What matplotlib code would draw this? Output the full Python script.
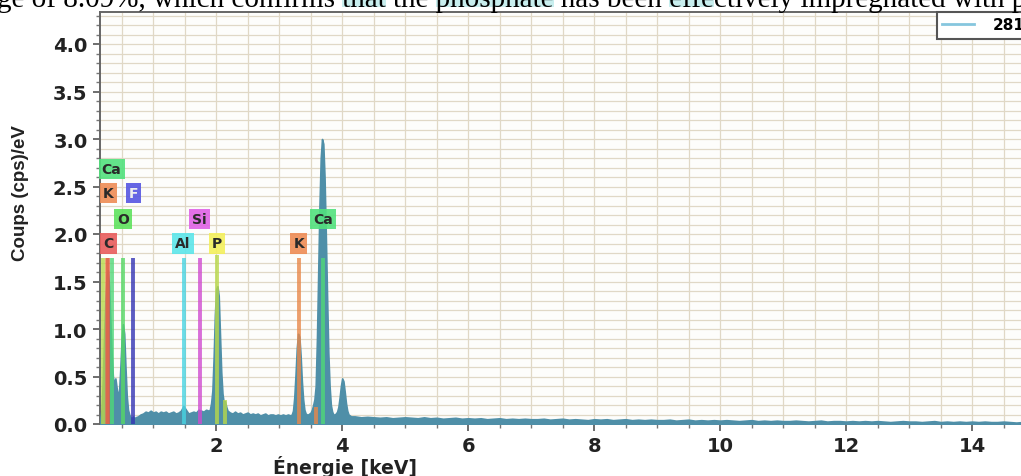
import numpy as np
import matplotlib
matplotlib.use("Agg")
import matplotlib.pyplot as plt
from matplotlib.lines import Line2D
from matplotlib.patches import Rectangle
from matplotlib.font_manager import FontProperties
from matplotlib.ticker import MultipleLocator, FormatStrFormatter

# --- spectrum (counts in cps/eV) ---
# each segment: first energy, channel step, counts
low_start, low_step = 0.16, 0.02
low_counts = [0.05, 0.15, 0.45, 0.9, 1.3, 1.55, 1.62, 1.45, 1.1, 0.75,
              0.5, 0.42, 0.48, 0.38, 0.3, 0.35, 0.6, 0.9, 1.05, 0.95,
              0.6, 0.3, 0.15, 0.1, 0.07, 0.06, 0.08, 0.06]

mid_start, mid_step = 0.72, 0.04
mid_counts = [0.07, 0.08, 0.1, 0.11, 0.13, 0.12, 0.14, 0.12, 0.13, 0.11,
              0.13, 0.12, 0.13, 0.11, 0.12, 0.13, 0.11, 0.12, 0.14, 0.19,
              0.15, 0.11, 0.12, 0.13, 0.12, 0.15, 0.14, 0.13, 0.15, 0.14]

p_start, p_step = 1.90, 0.02
p_counts = [0.15, 0.22, 0.35, 0.7, 1.15, 1.42, 1.45, 1.35, 0.95, 0.55,
            0.32, 0.22, 0.24, 0.18, 0.14, 0.13]

flat_start, flat_step = 2.22, 0.04
flat_counts = [0.12, 0.11, 0.13, 0.11, 0.12, 0.1, 0.11, 0.12, 0.1, 0.11,
               0.1, 0.11, 0.09, 0.1, 0.11, 0.09, 0.1, 0.1, 0.09, 0.1,
               0.09, 0.1, 0.09, 0.1, 0.09]

kca_start, kca_step = 3.20, 0.02
kca_counts = [0.1, 0.14, 0.28, 0.52, 0.8, 0.95, 0.92, 0.72, 0.45, 0.26,
              0.15, 0.11, 0.1, 0.1, 0.11, 0.12, 0.15, 0.2, 0.26, 0.4,
              0.9, 1.6, 2.3, 2.8, 3.0, 2.95, 2.6, 2.0, 1.35, 0.75,
              0.4, 0.2, 0.13, 0.1, 0.1, 0.11, 0.13, 0.18, 0.28, 0.4,
              0.48, 0.45, 0.34, 0.22, 0.14, 0.1, 0.09, 0.08, 0.08, 0.08]

tail_start, tail_step = 4.2, 0.1
tail_counts = [0.08, 0.07, 0.075, 0.07, 0.065, 0.07, 0.06, 0.065, 0.07,
               0.065, 0.06, 0.07, 0.06, 0.065, 0.055, 0.06, 0.065, 0.055, 0.06,
               0.055, 0.06, 0.05, 0.055, 0.06, 0.05, 0.055, 0.05, 0.055, 0.05,
               0.05, 0.055, 0.045, 0.05, 0.055, 0.045, 0.05, 0.045, 0.04, 0.05,
               0.045, 0.05, 0.04, 0.045, 0.05, 0.04, 0.045, 0.04, 0.045, 0.04,
               0.04, 0.045, 0.035, 0.04, 0.045, 0.035, 0.04, 0.035, 0.04, 0.035,
               0.04, 0.035, 0.03, 0.035, 0.04, 0.03, 0.035, 0.03, 0.035, 0.03,
               0.03, 0.035, 0.03, 0.025, 0.03, 0.035, 0.025, 0.03, 0.03, 0.025,
               0.03, 0.025, 0.03, 0.025, 0.03, 0.025, 0.02, 0.025, 0.03, 0.025,
               0.025, 0.02, 0.025, 0.03, 0.02, 0.025, 0.02, 0.025, 0.02, 0.025,
               0.02, 0.025, 0.02, 0.02, 0.025, 0.02, 0.015, 0.02, 0.02]

# --- element marker lines (keV) ---
line_energy = [0.20, 0.26, 0.277, 0.341, 0.525, 0.677, 1.486, 1.74, 2.013, 2.139, 3.313, 3.59, 3.69]
line_height = [1.75, 1.75, 1.75, 1.75, 1.75, 1.75, 1.75, 1.75, 1.78, 0.25, 1.75, 0.18, 1.75]
line_elem = ['P', 'K', 'C', 'Ca', 'O', 'F', 'Al', 'Si', 'P', 'P', 'K', 'K', 'Ca']

# --- element label boxes ---
label_text = ['Ca', 'K', 'F', 'O', 'C', 'Al', 'Si', 'P', 'K', 'Ca']
label_energy = [0.34, 0.285, 0.69, 0.525, 0.29, 1.47, 1.74, 2.01, 3.31, 3.69]
label_row = [3, 2, 2, 1, 0, 0, 1, 0, 0, 1]

legend_label = '2813_pt1'
caption = 'ge of 8.09%, which confirms that the phosphate has been effectively impregnated with p'

# styles
row_y = [1.9, 2.16, 2.43, 2.68]
box_color = {'Ca': '#52e27e', 'K': '#ee8c55', 'F': '#5656e2', 'O': '#5ee25e',
             'C': '#e85c5c', 'Al': '#5ce6ea', 'Si': '#e062e6', 'P': '#f4f05c'}
line_color = {'Ca': '#4fd878', 'K': '#e8884a', 'F': '#3434b4', 'O': '#56d866',
              'C': '#e0604a', 'Al': '#48d4e2', 'Si': '#d04cd0', 'P': '#b8d84a'}
spec_color = '#4f8fa8'
grid_color = '#e0d8c6'


def segment(start, step, counts):
    e = start + step * np.arange(len(counts))
    return e, np.asarray(counts, dtype=float)


segs = [segment(low_start, low_step, low_counts),
        segment(mid_start, mid_step, mid_counts),
        segment(p_start, p_step, p_counts),
        segment(flat_start, flat_step, flat_counts),
        segment(kca_start, kca_step, kca_counts),
        segment(tail_start, tail_step, tail_counts)]
energy = np.concatenate([s[0] for s in segs])
counts = np.concatenate([s[1] for s in segs])

W, H = 1021, 477
fig = plt.figure(figsize=(W / 100, H / 100), dpi=100)
fig.patch.set_facecolor('white')
ax = fig.add_axes([100 / W, 52 / H, 930 / W, 412 / H])
ax.set_facecolor('#fdfdfb')

# spectrum
ax.fill_between(energy, counts, 0, facecolor=spec_color, edgecolor=spec_color,
                lw=1.2, zorder=3)

# element lines on top, a bit see-through
for e, h, el in zip(line_energy, line_height, line_elem):
    ax.vlines(e, 0, h, color=line_color[el], lw=2.8, alpha=0.8, zorder=4)

for t, e, r in zip(label_text, label_energy, label_row):
    ax.text(e, row_y[r], t, ha='center', va='center', fontsize=10,
            fontweight='bold', color='#eeeeee' if t == 'F' else '#2a2a2a',
            bbox=dict(boxstyle='square,pad=0.22', fc=box_color[t], ec='none', alpha=0.9),
            zorder=6)

ax.set_xlim(0.156, 0.156 + 930 / 63)
ax.set_ylim(0, 412 / 95)
ax.xaxis.set_major_locator(MultipleLocator(2))
ax.xaxis.set_minor_locator(MultipleLocator(0.5))
ax.yaxis.set_major_locator(MultipleLocator(0.5))
ax.yaxis.set_minor_locator(MultipleLocator(0.1))
ax.yaxis.set_major_formatter(FormatStrFormatter('%.1f'))
ax.grid(True, which='both', color=grid_color, lw=0.9, zorder=0)
ax.set_axisbelow(True)
ax.tick_params(which='major', length=5, width=1.2, color='#555555', labelsize=14, pad=4)
ax.tick_params(which='minor', length=3, width=1.0, color='#777777')
for lab in ax.get_xticklabels() + ax.get_yticklabels():
    lab.set_fontweight('bold')
    lab.set_color('#222222')
for s in ['left', 'bottom', 'top']:
    ax.spines[s].set_color('#666666')
    ax.spines[s].set_linewidth(1.4)
ax.spines['right'].set_visible(False)

ax.set_xlabel('Énergie [keV]', fontsize=13.5, fontweight='bold', color='#222222')
ax.xaxis.set_label_coords((345 - 100) / 930, -0.075)
ax.set_ylabel('Coups (cps)/eV', fontsize=13.5, fontweight='bold',
              family='Liberation Sans', color='#222222')
ax.yaxis.set_label_coords(-(100 - 29) / 930, (425 - 193) / 412)

proxy = Line2D([], [], color='#86c6de', lw=2)
leg = ax.legend([proxy], [legend_label], loc='upper left', bbox_to_anchor=(0.9, 1.0),
                borderaxespad=0, fancybox=False, framealpha=1, borderpad=0.35,
                handlelength=2.1, handletextpad=1.2,
                prop=FontProperties(weight='bold', size=11))
leg.get_frame().set_edgecolor('#555555')
leg.get_frame().set_linewidth(1.5)
leg.set_zorder(10)

# clipped caption line from the document above the chart
fp = FontProperties(family='Liberation Serif', size=10)
renderer = fig.canvas.get_renderer()
w10, _, _ = renderer.get_text_width_height_descent(caption, fp, ismath=False)
x0 = -3.0
size = 10 * (W + 6 - x0) / w10
fp = FontProperties(family='Liberation Serif', size=size)
base_y = H - 7
for word, nchar in [('that', 4), ('phosphate', 9), ('effectively', 4)]:
    i = caption.index(word)
    a, _, _ = renderer.get_text_width_height_descent(caption[:i], fp, ismath=False)
    b, _, _ = renderer.get_text_width_height_descent(caption[:i + nchar], fp, ismath=False)
    fig.patches.append(Rectangle((x0 + a, H - 8), b - a, 10, transform=None,
                                 fc='#c8eeee', ec='none', zorder=0))
fig.text(x0 / W, base_y / H, caption, fontproperties=fp, va='baseline', ha='left',
         color='black')

fig.savefig('out.png', dpi=100)
